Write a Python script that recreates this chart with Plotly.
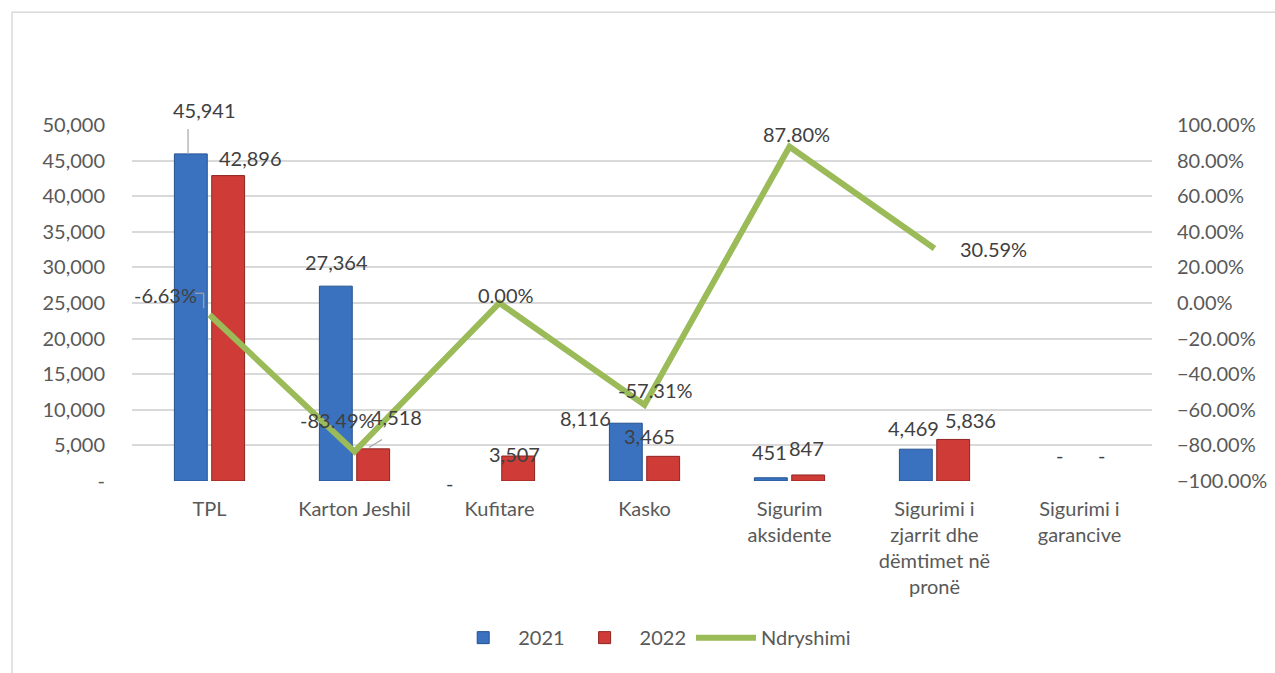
import plotly.graph_objects as go

categories = ["TPL", "Karton Jeshil", "Kufitare", "Kasko", "Sigurim<br>aksidente",
              "Sigurimi i<br>zjarrit dhe<br>dëmtimet në<br>pronë", "Sigurimi i<br>garancive"]
v2021 = [45941, 27364, 0, 8116, 451, 4469, 0]
v2022 = [42896, 4518, 3507, 3465, 847, 5836, 0]
ndryshimi = [-0.0663, -0.8349, 0.0, -0.5731, 0.8780, 0.3059, None]

FONT = "Lato"
TXT = "#595959"
FS = 20

fig = go.Figure()
fig.add_trace(go.Bar(name="2021", x=categories, y=v2021,
                     marker=dict(color="#3a72c0",
                                 line=dict(color="#24528f", width=[0 if v == 0 else 1 for v in v2021]))))
fig.add_trace(go.Bar(name="2022", x=categories, y=v2022,
                     marker=dict(color="#cf3b37",
                                 line=dict(color="#8f2421", width=[0 if v == 0 else 1 for v in v2022]))))
fig.add_trace(go.Scatter(name="Ndryshimi", x=categories, y=ndryshimi, yaxis="y2",
                         mode="lines", line=dict(color="#9bbb59", width=6)))

def fmt(v):
    return "-" if v == 0 else f"{v:,}"

# label offsets (pixels) for bar values
off2021 = [(-5, 44), (-18, 24), (-50, -2), (-59, 5), (-20, 26), (-21, 21), (-20, 26)]
off2022 = [(41, 18), (42, 32), (15, 2), (5, 20), (17, 27), (36, 19), (22, 26)]
offline = [(-44, 20), (-17, 32), (6, 8), (11, 15), (7, 13), (59, 0), (0, 0)]

ann = []
for i, c in enumerate(categories):
    ann.append(dict(x=i, y=v2021[i], xref="x", yref="y", text=fmt(v2021[i]), showarrow=False,
                    xshift=off2021[i][0], yshift=off2021[i][1], font=dict(size=FS, color="#404040", family=FONT)))
    ann.append(dict(x=i, y=v2022[i], xref="x", yref="y", text=fmt(v2022[i]), showarrow=False,
                    xshift=off2022[i][0], yshift=off2022[i][1], font=dict(size=FS, color="#404040", family=FONT)))
    if ndryshimi[i] is not None:
        ann.append(dict(x=i, y=ndryshimi[i], xref="x", yref="y2", text=f"{ndryshimi[i]*100:.2f}%",
                        showarrow=False, xshift=offline[i][0], yshift=offline[i][1],
                        font=dict(size=FS, color="#404040", family=FONT)))

shapes = [
    dict(type="rect", xref="paper", yref="paper", x0=-0.1176, x1=1.2, y0=-0.6, y1=1.317,
         line=dict(color="#d9d9d9", width=1.5), fillcolor="rgba(0,0,0,0)", layer="below"),
    # leader lines
    dict(type="line", xref="x", yref="y", x0=-0.148, x1=-0.148, y0=v2021[0], y1=v2021[0] + 3500,
         line=dict(color="#a6a6a6", width=1.2)),
    dict(type="line", xref="x", yref="y2", x0=-0.1, x1=-0.04, y0=0.055, y1=0.055,
         line=dict(color="#a6a6a6", width=1.2)),
    dict(type="line", xref="x", yref="y2", x0=-0.04, x1=-0.04, y0=0.055, y1=-0.03,
         line=dict(color="#a6a6a6", width=1.2)),
    dict(type="line", xref="x", yref="y", x0=1.1, x1=1.19, y0=v2022[1] + 200, y1=v2022[1] + 1300,
         line=dict(color="#a6a6a6", width=1.2)),
]

fig.update_layout(
    width=1275, height=673,
    margin=dict(l=132, r=123, t=125, b=192, autoexpand=False),
    paper_bgcolor="white", plot_bgcolor="white",
    barmode="group", bargap=0.485, bargroupgap=0.12,
    font=dict(family=FONT, size=FS, color=TXT),
    showlegend=True,
    legend=dict(orientation="h", x=0.51, xanchor="center", y=-0.44, yanchor="middle",
                itemwidth=60, font=dict(size=FS, color=TXT, family=FONT)),
    xaxis=dict(showgrid=False, showline=False, ticks="", tickfont=dict(size=FS, color=TXT),
               ticklabelstandoff=14, automargin=False),
    yaxis=dict(range=[0, 50000], tickvals=list(range(0, 50001, 5000)),
               ticktext=["-"] + [f"{v:,}" for v in range(5000, 50001, 5000)],
               showgrid=True, gridcolor="#d9d9d9", gridwidth=1.5, zeroline=False, automargin=False,
               showline=False, ticks="", ticklabelstandoff=26, tickfont=dict(size=FS, color=TXT)),
    yaxis2=dict(range=[-1, 1], overlaying="y", side="right", tickvals=[i / 10 for i in range(-10, 11, 2)],
                tickformat=".2%", showgrid=False, zeroline=False, showline=False, ticks="", automargin=False,
                ticklabelstandoff=24, tickfont=dict(size=FS, color=TXT)),
    annotations=ann,
    shapes=shapes,
    hovermode=False,
)

fig.write_html("out.html", config={"displayModeBar": False},
               post_script="document.body.style.margin='0';document.body.style.overflow='hidden';")
